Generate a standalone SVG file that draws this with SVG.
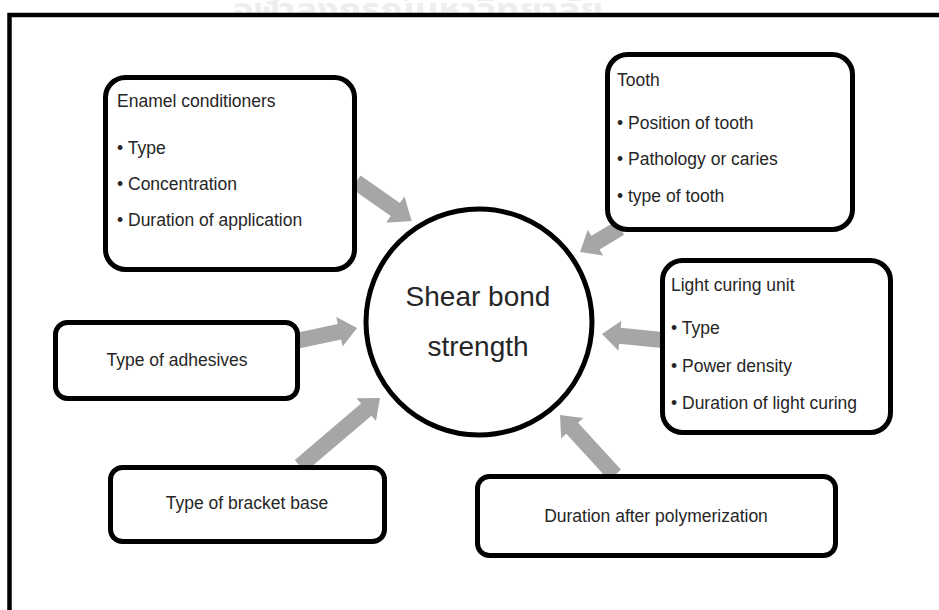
<svg xmlns="http://www.w3.org/2000/svg" width="939" height="610" viewBox="0 0 939 610">
<defs>
<style>
.box{fill:#fff;stroke:#000;stroke-width:5}
.t{font-family:"Liberation Sans",Arial,sans-serif;font-size:17.5px;fill:#262626}
.c{text-anchor:middle}
.big{font-family:"Liberation Sans",Arial,sans-serif;font-size:28px;fill:#262626;text-anchor:middle}
.arr{fill:#a6a6a6}
</style>
<clipPath id="wm"><rect x="0" y="0" width="939" height="12.5"/></clipPath>
</defs>
<rect width="939" height="610" fill="#fff"/>
<text x="418" y="20" clip-path="url(#wm)" font-family="'Noto Sans Thai','DejaVu Sans',sans-serif" font-size="30" font-weight="bold" fill="#eeeeee" text-anchor="middle" textLength="370" lengthAdjust="spacingAndGlyphs">จุฬาลงกรณ์มหาวิทยาลัย</text>
<path d="M9.5,612 V15 H941" fill="none" stroke="#000" stroke-width="4.5"/>
<g id="connectors">
<polygon class="arr" transform="translate(356,182) rotate(35)" points="0,-8 48,-8 48,-16 68,0 48,16 48,8 0,8"/>
<polygon class="arr" transform="translate(620,228) rotate(149)" points="0,-8 28.6,-8 28.6,-15 46.6,0 28.6,15 28.6,8 0,8"/>
<polygon class="arr" transform="translate(662,340) rotate(185.7)" points="0,-8 42.3,-8 42.3,-15 60.3,0 42.3,15 42.3,8 0,8"/>
<polygon class="arr" transform="translate(296,341) rotate(-12)" points="0,-8 44.4,-8 44.4,-15 62.4,0 44.4,15 44.4,8 0,8"/>
<polygon class="arr" transform="translate(300,466) rotate(-40.4)" points="0,-8 87,-8 87,-15 105,0 87,15 87,8 0,8"/>
<polygon class="arr" transform="translate(615,475) rotate(-132.5)" points="0,-8 63.4,-8 63.4,-15 81.4,0 63.4,15 63.4,8 0,8"/>
</g>
<g id="center">
<circle cx="479" cy="322" r="113" fill="#fff" stroke="#000" stroke-width="5"/>
<text class="big" x="478" y="306">Shear bond</text>
<text class="big" x="478" y="356">strength</text>
</g>
<g id="enamel">
<rect class="box" x="105.5" y="77.5" width="249" height="192" rx="20"/>
<text class="t" x="117" y="107">Enamel conditioners</text>
<text class="t" x="117" y="154">• Type</text>
<text class="t" x="117" y="190">• Concentration</text>
<text class="t" x="117" y="226">• Duration of application</text>
</g>
<g id="tooth">
<rect class="box" x="607.5" y="54.5" width="245" height="175" rx="20"/>
<text class="t" x="617" y="86">Tooth</text>
<text class="t" x="617" y="129">• Position of tooth</text>
<text class="t" x="617" y="165">• Pathology or caries</text>
<text class="t" x="617" y="202">• type of tooth</text>
</g>
<g id="light">
<rect class="box" x="662.5" y="260.5" width="228" height="172" rx="20"/>
<text class="t" x="671" y="291">Light curing unit</text>
<text class="t" x="671" y="334">• Type</text>
<text class="t" x="671" y="372">• Power density</text>
<text class="t" x="671" y="409">• Duration of light curing</text>
</g>
<g id="adhesives">
<rect class="box" x="55.5" y="322.5" width="242" height="76" rx="12"/>
<text class="t c" x="177" y="366">Type of adhesives</text>
</g>
<g id="bracket">
<rect class="box" x="110.5" y="467.5" width="274" height="74" rx="12"/>
<text class="t c" x="247" y="509">Type of bracket base</text>
</g>
<g id="polymerization">
<rect class="box" x="477.5" y="476.5" width="358" height="79" rx="12"/>
<text class="t c" x="656" y="522">Duration after polymerization</text>
</g>
</svg>
